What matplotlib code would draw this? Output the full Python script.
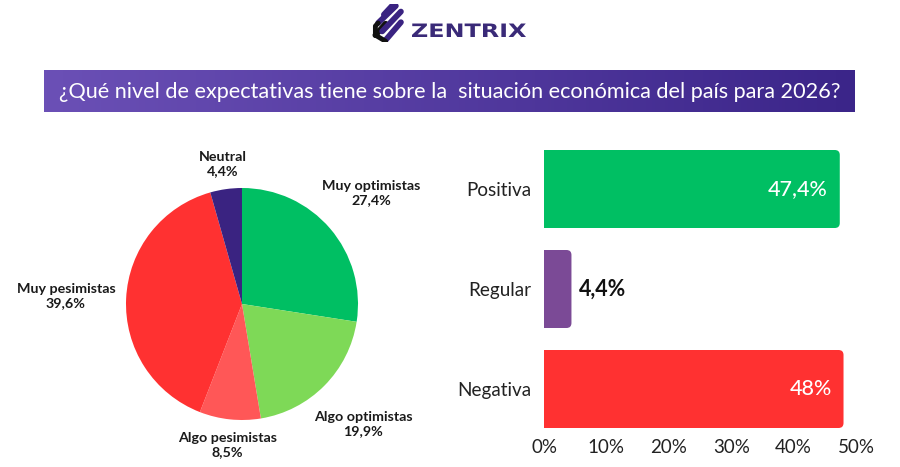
import numpy as np
import matplotlib
matplotlib.use("Agg")
import matplotlib.pyplot as plt
from matplotlib.patches import FancyBboxPatch, PathPatch
from matplotlib.colors import LinearSegmentedColormap
from matplotlib.textpath import TextPath
from matplotlib.font_manager import FontProperties
from matplotlib.transforms import Affine2D, IdentityTransform

# pie data
pie_labels = ["Muy optimistas", "Algo optimistas", "Algo pesimistas", "Muy pesimistas", "Neutral"]
pie_values = [27.4, 19.9, 8.5, 39.6, 4.4]
pie_text = ["27,4%", "19,9%", "8,5%", "39,6%", "4,4%"]
pie_colors = ["#00bf63", "#7ed957", "#ff5757", "#ff3131", "#3a2381"]
label_dist = [1.47, 1.47, 1.22, 1.52, 1.22]

# bar data
bar_cats = ["Positiva", "Regular", "Negativa"]
bar_values = [47.4, 4.4, 48.0]
bar_text = ["47,4%", "4,4%", "48%"]
bar_colors = ["#00bf63", "#7b4a96", "#ff3131"]
x_ticks = [0, 10, 20, 30, 40, 50]

title = "¿Qué nivel de expectativas tiene sobre la  situación económica del país para 2026?"

W, H = 900, 467
fig = plt.figure(figsize=(W / 100, H / 100), dpi=100)
fig.patch.set_facecolor("white")


def px_axes(x0, y0, x1, y1):
    # axes from pixel box (top-left origin)
    return fig.add_axes([x0 / W, 1 - y1 / H, (x1 - x0) / W, (y1 - y0) / H])


# ---- logo ----
lax = px_axes(372, 4, 406, 42)
lax.set_xlim(0, 1)
lax.set_ylim(0, 1)
lax.axis("off")
for (x0, y0, x1, y1, c) in [(0.35, 0.72, 0.62, 0.98, "#3a2381"),
                            (0.18, 0.50, 0.70, 0.95, "#3a2381"),
                            (0.10, 0.18, 0.40, 0.48, "#111111"),
                            (0.30, 0.28, 0.85, 0.80, "#3a2381"),
                            (0.40, 0.05, 0.85, 0.52, "#3a2381")]:
    lax.plot([x0, x1], [y0, y1], color=c, lw=4.2, solid_capstyle="round")
lax.plot([0.18, 0.10, 0.10, 0.40], [0.50, 0.42, 0.18, 0.02], color="#111111", lw=3.5,
         solid_capstyle="round", solid_joinstyle="round")

# wide logo lettering, stretched horizontally
tp = TextPath((0, 0), "ZENTRIX", size=100, prop=FontProperties(family="DejaVu Sans", weight="semibold"))
bb = tp.get_extents()
sy = 13.5 / 73.0
sx = 114 / bb.width
logo_tr = Affine2D().translate(-bb.x0, 0).scale(sx, sy).translate(412, H - 37) + IdentityTransform()
fig.patches.append(PathPatch(tp, transform=logo_tr, facecolor="#3a2a78", edgecolor="none"))

# ---- title banner ----
bax = px_axes(44, 70, 855, 112)
grad = np.linspace(0, 1, 256).reshape(1, -1)
cmap = LinearSegmentedColormap.from_list("ban", ["#6b50b6", "#3b2589"])
bax.imshow(grad, aspect="auto", cmap=cmap, extent=(0, 1, 0, 1))
bax.set_xlim(0, 1)
bax.set_ylim(0, 1)
bax.axis("off")
bax.text(0.5, 0.48, title, color="white", fontsize=15.6, family="Lato",
         ha="center", va="center")

# ---- pie ----
pax = px_axes(126, 188, 358, 420)
wedges, _ = pax.pie(pie_values, colors=pie_colors, startangle=90, counterclock=False,
                    radius=1, wedgeprops=dict(linewidth=0))
pax.set_xlim(-1, 1)
pax.set_ylim(-1, 1)
pax.set_aspect("equal")
for w, name, txt, d in zip(wedges, pie_labels, pie_text, label_dist):
    ang = np.deg2rad((w.theta1 + w.theta2) / 2)
    pax.text(d * np.cos(ang), d * np.sin(ang), name + "\n" + txt, ha="center", va="center",
             fontsize=10.3, family="Lato", fontweight="bold", color="#1a1a1a",
             linespacing=1.2)

# ---- bars ----
ax = px_axes(544, 139, 856, 439)
ypos = np.arange(len(bar_cats))
bars = ax.barh(ypos, bar_values, height=0.78, color="none")
ax.set_xlim(0, 50)
ax.set_ylim(2.5, -0.5)
rx = 0.8
asp = (3 / 300) / (50 / 312)
for b, c in zip(bars, bar_colors):
    x, y, w, h = b.get_x(), b.get_y(), b.get_width(), b.get_height()
    ax.add_patch(FancyBboxPatch((x - rx * 2, y), w + rx * 2, h,
                                boxstyle=f"round,pad=0,rounding_size={rx}",
                                mutation_aspect=asp, facecolor=c, edgecolor="none"))
for i, (v, t) in enumerate(zip(bar_values, bar_text)):
    if v > 10:
        ax.text(v - 1.9, i, t, color="white", fontsize=15.5, family="Lato",
                fontweight="medium", ha="right", va="center")
    else:
        ax.text(v + 1.2, i, t, color="#111111", fontsize=15.5, family="Lato",
                fontweight="bold", ha="left", va="center")
ax.set_yticks(ypos)
ax.set_yticklabels(bar_cats, fontsize=13.6, family="Lato", color="#222222")
ax.set_xticks(x_ticks)
ax.set_xticklabels([f"{t}%" for t in x_ticks], fontsize=13.5, family="Lato", color="#222222")
ax.tick_params(length=0)
ax.tick_params(axis="y", pad=9)
ax.tick_params(axis="x", pad=0)
for s in ax.spines.values():
    s.set_visible(False)

fig.savefig("out.png", dpi=100)
